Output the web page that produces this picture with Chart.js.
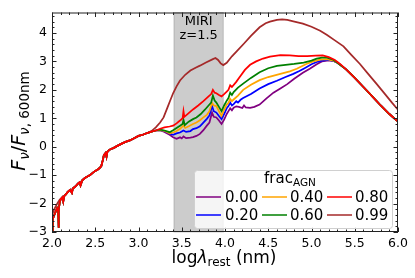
<!DOCTYPE html>
<html><head><meta charset="utf-8">
<script src="https://cdn.jsdelivr.net/npm/chart.js@4"></script>
<style>html,body{margin:0;padding:0;background:#fff;}canvas{display:block;}</style>
</head><body>
<canvas id="c" width="415" height="278"></canvas>
<script>
// ---- data ----
const fracLabels = ['0.00','0.20','0.40','0.60','0.80','0.99'];
const seriesColors = ['#800080','#0000ff','#ffa500','#008000','#ff0000','#a52a2a'];
const drawOrder = [5,4,3,2,0,1]; // lower = drawn on top (red on top, then brown)
const xTickValues = [2.0,2.5,3.0,3.5,4.0,4.5,5.0,5.5,6.0];
const yTickValues = [-3,-2,-1,0,1,2,3,4];
const miriBand = [3.41, 3.98];
const miriText = ['MIRI', 'z=1.5'];

// shared UV/optical part of all SEDs
const commonX = [2.00,2.01,2.02,2.04,2.06,2.07,2.075,2.08,2.09,2.10,2.12,2.13,2.14,2.16,2.18,2.21,2.23,2.24,2.27,2.30,2.32,2.33,2.35,2.38,2.41,2.44,2.47,2.50,2.53,2.55,2.57,2.585,2.60,2.62,2.63,2.64,2.66,2.68,2.71,2.75,2.80,2.85,2.90,2.95,3.00,3.05,3.10,3.15,3.20];
const commonY = [-3.00,-2.55,-2.45,-2.30,-2.15,-2.20,-2.85,-2.20,-1.95,-1.85,-1.78,-1.92,-1.74,-1.68,-1.60,-1.52,-1.62,-1.47,-1.40,-1.30,-1.25,-1.36,-1.18,-1.10,-1.05,-1.00,-0.92,-0.85,-0.80,-0.75,-0.68,-0.50,-0.30,-0.22,-0.35,-0.18,-0.12,-0.08,-0.05,0.02,0.10,0.17,0.22,0.30,0.38,0.42,0.48,0.53,0.57];
// shared far-IR decline
const declineX = [5.30,5.40,5.50,5.60,5.70,5.80,5.90,6.00];
const declineY = [2.95,2.72,2.42,2.10,1.78,1.45,1.15,0.88];

const purpleX = [3.25,3.30,3.36,3.40,3.44,3.48,3.50,3.52,3.55,3.60,3.63,3.67,3.71,3.75,3.79,3.82,3.85,3.87,3.90,3.93,3.96,3.99,4.02,4.04,4.06,4.08,4.10,4.13,4.16,4.20,4.22,4.24,4.29,4.34,4.40,4.48,4.56,4.64,4.72,4.80,4.90,4.98,5.06,5.12,5.20,5.26];
const purpleY = [0.58,0.52,0.42,0.33,0.28,0.33,0.29,0.36,0.30,0.32,0.34,0.38,0.45,0.58,0.74,0.85,1.20,1.05,1.03,0.92,0.80,0.95,1.15,1.25,1.35,1.28,1.37,1.42,1.40,1.36,1.45,1.38,1.37,1.40,1.48,1.70,1.90,2.05,2.20,2.39,2.60,2.74,2.90,3.00,3.04,3.01];
const blueX = [3.25,3.30,3.36,3.40,3.44,3.48,3.52,3.55,3.60,3.63,3.67,3.71,3.75,3.79,3.82,3.85,3.87,3.90,3.93,3.96,3.99,4.02,4.04,4.06,4.08,4.10,4.13,4.15,4.18,4.21,4.30,4.40,4.50,4.60,4.70,4.79,4.86,4.92,5.00,5.06,5.12,5.20,5.26];
const blueY = [0.58,0.55,0.47,0.42,0.47,0.50,0.57,0.52,0.55,0.62,0.65,0.72,0.85,0.98,1.10,1.43,1.25,1.20,1.08,0.97,1.15,1.35,1.43,1.55,1.45,1.50,1.60,1.55,1.65,1.71,1.85,2.05,2.20,2.32,2.45,2.56,2.66,2.76,2.90,2.98,3.03,3.05,3.01];
const orangeX = [3.25,3.30,3.36,3.40,3.44,3.48,3.52,3.54,3.58,3.63,3.67,3.71,3.75,3.79,3.82,3.85,3.87,3.90,3.93,3.96,3.99,4.02,4.04,4.06,4.08,4.10,4.15,4.21,4.30,4.40,4.50,4.64,4.75,4.83,4.94,5.02,5.10,5.18,5.25];
const orangeY = [0.58,0.56,0.47,0.50,0.55,0.63,0.74,0.66,0.72,0.80,0.85,0.93,1.03,1.12,1.25,1.54,1.45,1.43,1.25,1.08,1.30,1.48,1.54,1.68,1.60,1.66,1.80,2.00,2.18,2.34,2.45,2.56,2.65,2.74,2.91,3.00,3.06,3.08,3.03];
const greenX = [3.25,3.30,3.36,3.40,3.44,3.48,3.51,3.52,3.535,3.58,3.63,3.67,3.72,3.77,3.81,3.84,3.86,3.88,3.90,3.93,3.96,3.99,4.02,4.04,4.06,4.08,4.10,4.15,4.21,4.30,4.40,4.50,4.60,4.70,4.80,4.91,5.00,5.06,5.12,5.18,5.25];
const greenY = [0.60,0.57,0.51,0.58,0.66,0.74,0.80,0.95,0.76,0.88,0.97,1.03,1.15,1.31,1.45,1.55,1.80,1.62,1.55,1.40,1.25,1.45,1.62,1.71,1.90,1.82,1.92,2.08,2.22,2.42,2.62,2.76,2.84,2.88,2.91,2.96,3.03,3.10,3.13,3.13,3.06];
const redX = [3.25,3.30,3.36,3.40,3.44,3.48,3.51,3.52,3.53,3.58,3.63,3.69,3.75,3.81,3.84,3.86,3.88,3.90,3.93,3.96,3.99,4.02,4.04,4.06,4.08,4.13,4.17,4.23,4.29,4.36,4.44,4.52,4.64,4.75,4.85,4.95,5.05,5.13,5.20,5.27,5.33];
const redY = [0.63,0.68,0.71,0.74,0.82,0.92,1.00,1.25,1.05,1.18,1.31,1.45,1.60,1.77,1.85,2.00,1.90,1.88,1.82,1.77,1.85,1.94,2.00,2.16,2.10,2.28,2.45,2.70,2.88,3.00,3.10,3.17,3.22,3.21,3.19,3.19,3.20,3.21,3.15,3.05,2.91];
const brownHeadX = [2.00,2.03,2.06,2.09];
const brownHeadY = [-2.40,-2.18,-2.00,-1.86];
const brownX = [3.15,3.20,3.25,3.29,3.34,3.37,3.40,3.44,3.48,3.54,3.60,3.66,3.71,3.78,3.86,3.89,3.92,3.95,3.98,4.02,4.08,4.14,4.22,4.30,4.40,4.47,4.52,4.60,4.66,4.72,4.79,4.90,5.00,5.10,5.18,5.27,5.37,5.46,5.56,5.65,5.75,5.85,5.93,6.00];
const brownY = [0.55,0.68,0.85,1.03,1.42,1.65,1.88,2.12,2.33,2.53,2.68,2.78,2.85,2.96,3.08,3.12,3.05,2.93,2.87,2.95,3.18,3.37,3.63,3.90,4.20,4.34,4.40,4.46,4.48,4.46,4.41,4.33,4.22,4.08,3.93,3.74,3.53,3.23,2.91,2.58,2.22,1.85,1.55,1.30];

// ---- build point lists ----
function pts(xs, ys){ return xs.map((x,i)=>({x:x, y:ys[i]})); }
function agnSeries(tx, ty){
  const out = pts(commonX, commonY).concat(pts(tx, ty));
  const last = tx[tx.length-1];
  return out.concat(pts(declineX, declineY).filter(p=>p.x > last));
}
function brownSeries(){
  const mid = pts(commonX, commonY).filter(p=>p.x >= 2.10 && p.x <= 3.10);
  return pts(brownHeadX, brownHeadY).concat(mid, pts(brownX, brownY));
}
const seriesData = [
  agnSeries(purpleX, purpleY), agnSeries(blueX, blueY), agnSeries(orangeX, orangeY),
  agnSeries(greenX, greenY), agnSeries(redX, redY), brownSeries()
];

const FONT = '"DejaVu Sans", sans-serif';
const minus = s => String(s).replace('-', '\u2212');

function drawPieces(ctx, pieces, x0, y0){
  let x = x0;
  for (const p of pieces){ ctx.font = p.f; ctx.fillText(p.t, x, y0 + (p.dy||0)); x += ctx.measureText(p.t).width; }
}
function piecesWidth(ctx, pieces){
  let w = 0; for (const p of pieces){ ctx.font = p.f; w += ctx.measureText(p.t).width; } return w;
}

const deco = {
  id: 'deco',
  beforeDatasetsDraw(chart){
    const ctx = chart.ctx, a = chart.chartArea, xs = chart.scales.x;
    const x1 = xs.getPixelForValue(miriBand[0]), x2 = xs.getPixelForValue(miriBand[1]);
    ctx.save();
    ctx.fillStyle = 'rgba(128,128,128,0.4)';
    ctx.fillRect(x1, a.top, x2-x1, a.bottom-a.top);
    ctx.strokeStyle = 'rgba(128,128,128,0.4)'; ctx.lineWidth = 1;
    ctx.strokeRect(x1, a.top, x2-x1, a.bottom-a.top);
    ctx.restore();
  },
  afterDatasetsDraw(chart){
    const ctx = chart.ctx, a = chart.chartArea, xs = chart.scales.x, ys = chart.scales.y;
    ctx.save();
    // band text
    const xc = (xs.getPixelForValue(miriBand[0]) + xs.getPixelForValue(miriBand[1]))/2;
    ctx.fillStyle = '#000'; ctx.textAlign = 'center'; ctx.textBaseline = 'alphabetic';
    ctx.font = '13px ' + FONT;
    ctx.fillText(miriText[0], xc, 25);
    ctx.fillText(miriText[1], xc, 39);
    // frame
    ctx.strokeStyle = '#222'; ctx.lineWidth = 1;
    ctx.strokeRect(a.left+0.5, a.top+0.5, a.right-a.left-1, a.bottom-a.top-1);
    // inward ticks
    ctx.beginPath();
    for (let i=0;i<=40;i++){
      const p = Math.round(xs.getPixelForValue(2 + i*0.1)) + 0.5;
      const L = (i%5===0) ? 4.5 : 2.5;
      ctx.moveTo(p, a.bottom); ctx.lineTo(p, a.bottom-L);
      ctx.moveTo(p, a.top); ctx.lineTo(p, a.top+L);
    }
    for (let i=0;i<=38;i++){
      const v = -3 + i*0.2;
      if (v > ys.max) break;
      const p = Math.round(ys.getPixelForValue(v)) + 0.5;
      const L = (i%5===0) ? 4.5 : 2.5;
      ctx.moveTo(a.left, p); ctx.lineTo(a.left+L, p);
      ctx.moveTo(a.right, p); ctx.lineTo(a.right-L, p);
    }
    ctx.stroke();

    // legend
    const lx = 194, ly = 170, lw = 198, lh = 58;
    ctx.fillStyle = 'rgba(255,255,255,0.8)';
    ctx.strokeStyle = '#d0d0d0';
    ctx.beginPath();
    if (ctx.roundRect) ctx.roundRect(lx+0.5, ly+0.5, lw, lh, 3); else ctx.rect(lx+0.5, ly+0.5, lw, lh);
    ctx.fill(); ctx.stroke();
    ctx.fillStyle = '#000'; ctx.textAlign = 'left';
    const tPieces = [{t:'frac', f:'15px '+FONT},{t:'AGN', f:'10.5px '+FONT, dy:3}];
    drawPieces(ctx, tPieces, 290 - piecesWidth(ctx,tPieces)/2, 183);
    const colLine = [196, 262, 327], colText = [225, 290, 355], rowY = [197, 215];
    const order = [[0,1],[2,3],[4,5]];
    ctx.font = '15px ' + FONT; ctx.textBaseline = 'middle';
    order.forEach((pair, c)=>{
      pair.forEach((di, r)=>{
        const ds = chart.data.datasets[di];
        ctx.strokeStyle = ds.borderColor; ctx.lineWidth = 1.5;
        ctx.beginPath(); ctx.moveTo(colLine[c], rowY[r]); ctx.lineTo(colLine[c]+25, rowY[r]); ctx.stroke();
        ctx.fillText(ds.label, colText[c], rowY[r]+1);
      });
    });
    ctx.textBaseline = 'alphabetic';

    // x title
    const xt = [{t:'log', f:'17px '+FONT},{t:'\u03bb', f:'italic 17px '+FONT},{t:'rest', f:'12px '+FONT, dy:3},{t:' (nm)', f:'17px '+FONT}];
    drawPieces(ctx, xt, 224 - piecesWidth(ctx, xt)/2, 263);
    // y title (rotated)
    const yt = [{t:'F', f:'italic 19px '+FONT},{t:'\u03bd', f:'italic 13.5px '+FONT, dy:4},{t:'/', f:'19px '+FONT},
                {t:'F', f:'italic 19px '+FONT},{t:'\u03bd', f:'italic 13.5px '+FONT, dy:4},{t:', 600nm', f:'13.5px '+FONT, dy:4}];
    ctx.translate(25, 121); ctx.rotate(-Math.PI/2);
    drawPieces(ctx, yt, -piecesWidth(ctx, yt)/2, 0);
    ctx.restore();
  }
};

new Chart(document.getElementById('c'), {
  type: 'scatter',
  data: {
    datasets: seriesData.map((d,i)=>({
      label: fracLabels[i], data: d, showLine: true, borderColor: seriesColors[i],
      backgroundColor: seriesColors[i], borderWidth: 1.75, pointRadius: 0, tension: 0,
      order: drawOrder[i]
    }))
  },
  options: {
    responsive: false, animation: false, devicePixelRatio: 1,
    layout: { padding: { top: 7, right: 17, left: 0, bottom: 0 } },
    plugins: { legend: { display: false }, tooltip: { enabled: false } },
    scales: {
      x: {
        type: 'linear', min: 2, max: 6,
        grid: { display: false, drawTicks: false }, border: { display: false },
        afterBuildTicks: s => { s.ticks = xTickValues.map(v=>({value:v})); },
        afterFit: s => { s.height = 46; },
        ticks: { autoSkip: false, maxRotation: 0, padding: 4, color: '#000', font: { family: FONT, size: 12.5 },
                 callback: v => Number(v).toFixed(1) }
      },
      y: {
        type: 'linear', min: -3, max: 4.72,
        grid: { display: false, drawTicks: false }, border: { display: false },
        afterBuildTicks: s => { s.ticks = yTickValues.map(v=>({value:v})); },
        afterFit: s => { s.width = 52; },
        ticks: { autoSkip: false, padding: 5, color: '#000', font: { family: FONT, size: 12.5 },
                 callback: v => minus(v) }
      }
    }
  },
  plugins: [deco]
});
</script>
</body></html>
